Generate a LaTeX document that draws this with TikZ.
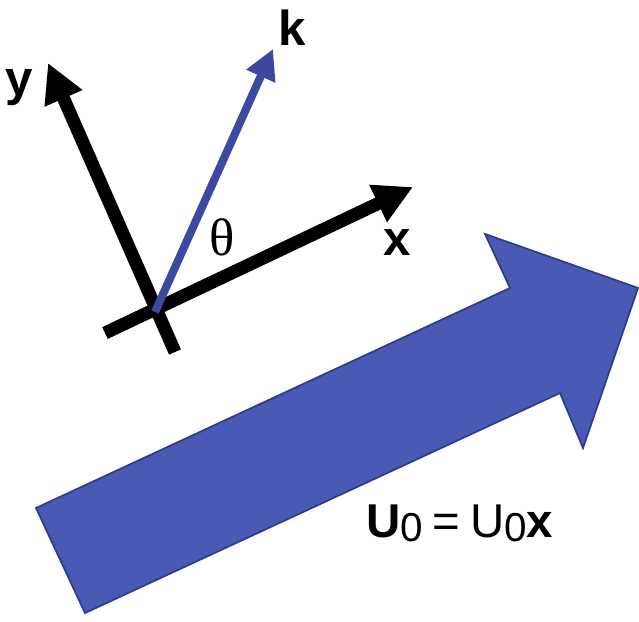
\documentclass[tikz,border=0pt]{standalone}
\usepackage{fontspec}
\setmainfont{Liberation Sans}
\newfontfamily\thetafont{Liberation Serif}
\usetikzlibrary{arrows.meta}
\definecolor{flowblue}{HTML}{4A5AB4}
\definecolor{flowedge}{HTML}{2E3C8C}
\definecolor{kblue}{HTML}{3B4A9E}
\newcommand{\lowzero}{\raisebox{-1.4pt}{\fontsize{11.5}{12}\selectfont 0}}

\begin{document}
\begin{tikzpicture}[
    axis/.style={
        black,
        line width=3.7pt,
        -{Triangle[length=11pt,width=11pt]}
    },
    wavevec/.style={
        kblue,
        line width=2.3pt,
        -{Triangle[length=8.5pt,width=8.5pt]}
    },
    lbl/.style={
        font=\fontsize{14}{16}\selectfont\bfseries,
        inner sep=0pt
    }
]
\useasboundingbox (0,0) rectangle (6.39,6.21);

% mean flow
\draw[
    fill=flowblue,
    draw=flowedge,
    line width=0.5pt,
    line join=miter
]
(0.36,1.13) -- (5.10,3.33) -- (4.85,3.87) -- (6.38,3.33)
-- (5.83,1.73) -- (5.60,2.28) -- (0.85,0.08) -- cycle;

% frame
\coordinate (O) at (1.55,3.09);
\coordinate (xs) at (1.05,2.88);
\coordinate (xe) at (4.13,4.34);
\coordinate (ys) at (1.75,2.69);
\coordinate (ye) at (0.48,5.58);
\coordinate (ke) at (2.73,5.72);

\draw[axis] (xs) -- (xe);
\draw[axis] (ys) -- (ye);
\draw[wavevec] (O) -- (ke);

\node[lbl] (ylbl) at (0.19,5.33) {y};
\node[lbl] (xlbl) at (3.97,3.78) {x};
\node[lbl] (klbl) at (2.92,5.93) {k};
\node[
    font=\fontsize{15}{16}\selectfont\thetafont,
    inner sep=0pt
] (theta) at (2.22,3.84) {θ};

\node[
    font=\fontsize{13.5}{16}\selectfont,
    anchor=base west,
    inner sep=0pt
] (uzero) at (3.66,0.84) {\textbf{U}\lowzero\hspace{0.2em}=\hspace{0.2em}U\lowzero\textbf{x}};
\end{tikzpicture}
\end{document}
